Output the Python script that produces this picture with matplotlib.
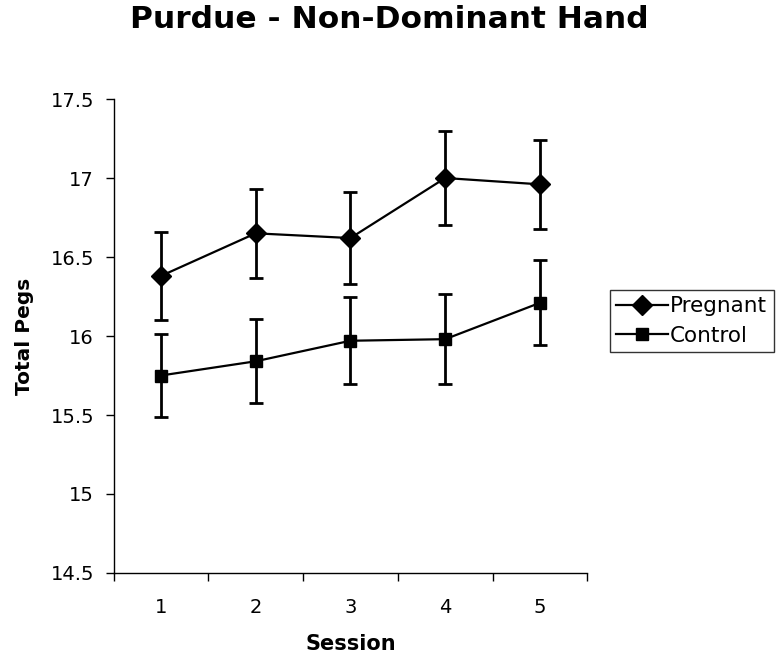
import matplotlib.pyplot as plt
from matplotlib.lines import Line2D
import numpy as np

sessions = [1, 2, 3, 4, 5]
pregnant = [16.38, 16.65, 16.62, 17.0, 16.96]
pregnant_err = [0.28, 0.28, 0.29, 0.295, 0.28]
control = [15.75, 15.84, 15.97, 15.98, 16.21]
control_err = [0.265, 0.266, 0.275, 0.285, 0.27]

fig = plt.figure(figsize=(7.79, 6.58), dpi=100)
ax = fig.add_axes([0.1457, 0.1292, 0.6083, 0.7203])

ax.errorbar(sessions, pregnant, yerr=pregnant_err, color='black', lw=1.6,
            marker='D', markersize=10, elinewidth=2, capsize=5, capthick=2)
ax.errorbar(sessions, control, yerr=control_err, color='black', lw=1.6,
            marker='s', markersize=9, elinewidth=2, capsize=5, capthick=2)

ax.set_xlim(0.5, 5.5)
ax.set_ylim(14.5, 17.5)
ax.set_yticks(np.arange(14.5, 17.51, 0.5))
ax.set_yticklabels(['14.5', '15', '15.5', '16', '16.5', '17', '17.5'])
ax.set_xticks(np.arange(0.5, 5.6, 1))
ax.set_xticklabels([])
ax.set_xticks(sessions, minor=True)
ax.set_xticklabels([str(s) for s in sessions], minor=True)
ax.tick_params(axis='x', which='major', direction='out', length=6, width=1)
ax.tick_params(axis='x', which='minor', length=0, pad=18, labelsize=14)
ax.tick_params(axis='y', direction='out', length=6, width=1, pad=8, labelsize=14)

for side in ['top', 'right']:
    ax.spines[side].set_visible(False)
ax.spines['left'].set_linewidth(1)
ax.spines['bottom'].set_linewidth(1)

ax.set_xlabel('Session', fontsize=15, fontweight='bold', labelpad=12)
ax.set_ylabel('Total Pegs', fontsize=14.5, fontweight='bold', labelpad=12)
fig.suptitle('Purdue - Non-Dominant Hand', fontsize=22.5, fontweight='bold',
             x=0.5, y=0.971, va='center')

handles = [Line2D([], [], color='black', lw=1.6, marker='D', markersize=10),
           Line2D([], [], color='black', lw=1.6, marker='s', markersize=9)]
leg = fig.legend(handles, ['Pregnant', 'Control'], loc='center left',
                 bbox_to_anchor=(0.783, 0.5122),
                 fontsize=15.5, frameon=True, fancybox=False, edgecolor='black',
                 handlelength=2.4, handletextpad=0.1, borderpad=0.3,
                 labelspacing=0.45, borderaxespad=0)
leg.get_frame().set_linewidth(1)

fig.savefig('out.png', dpi=100)
